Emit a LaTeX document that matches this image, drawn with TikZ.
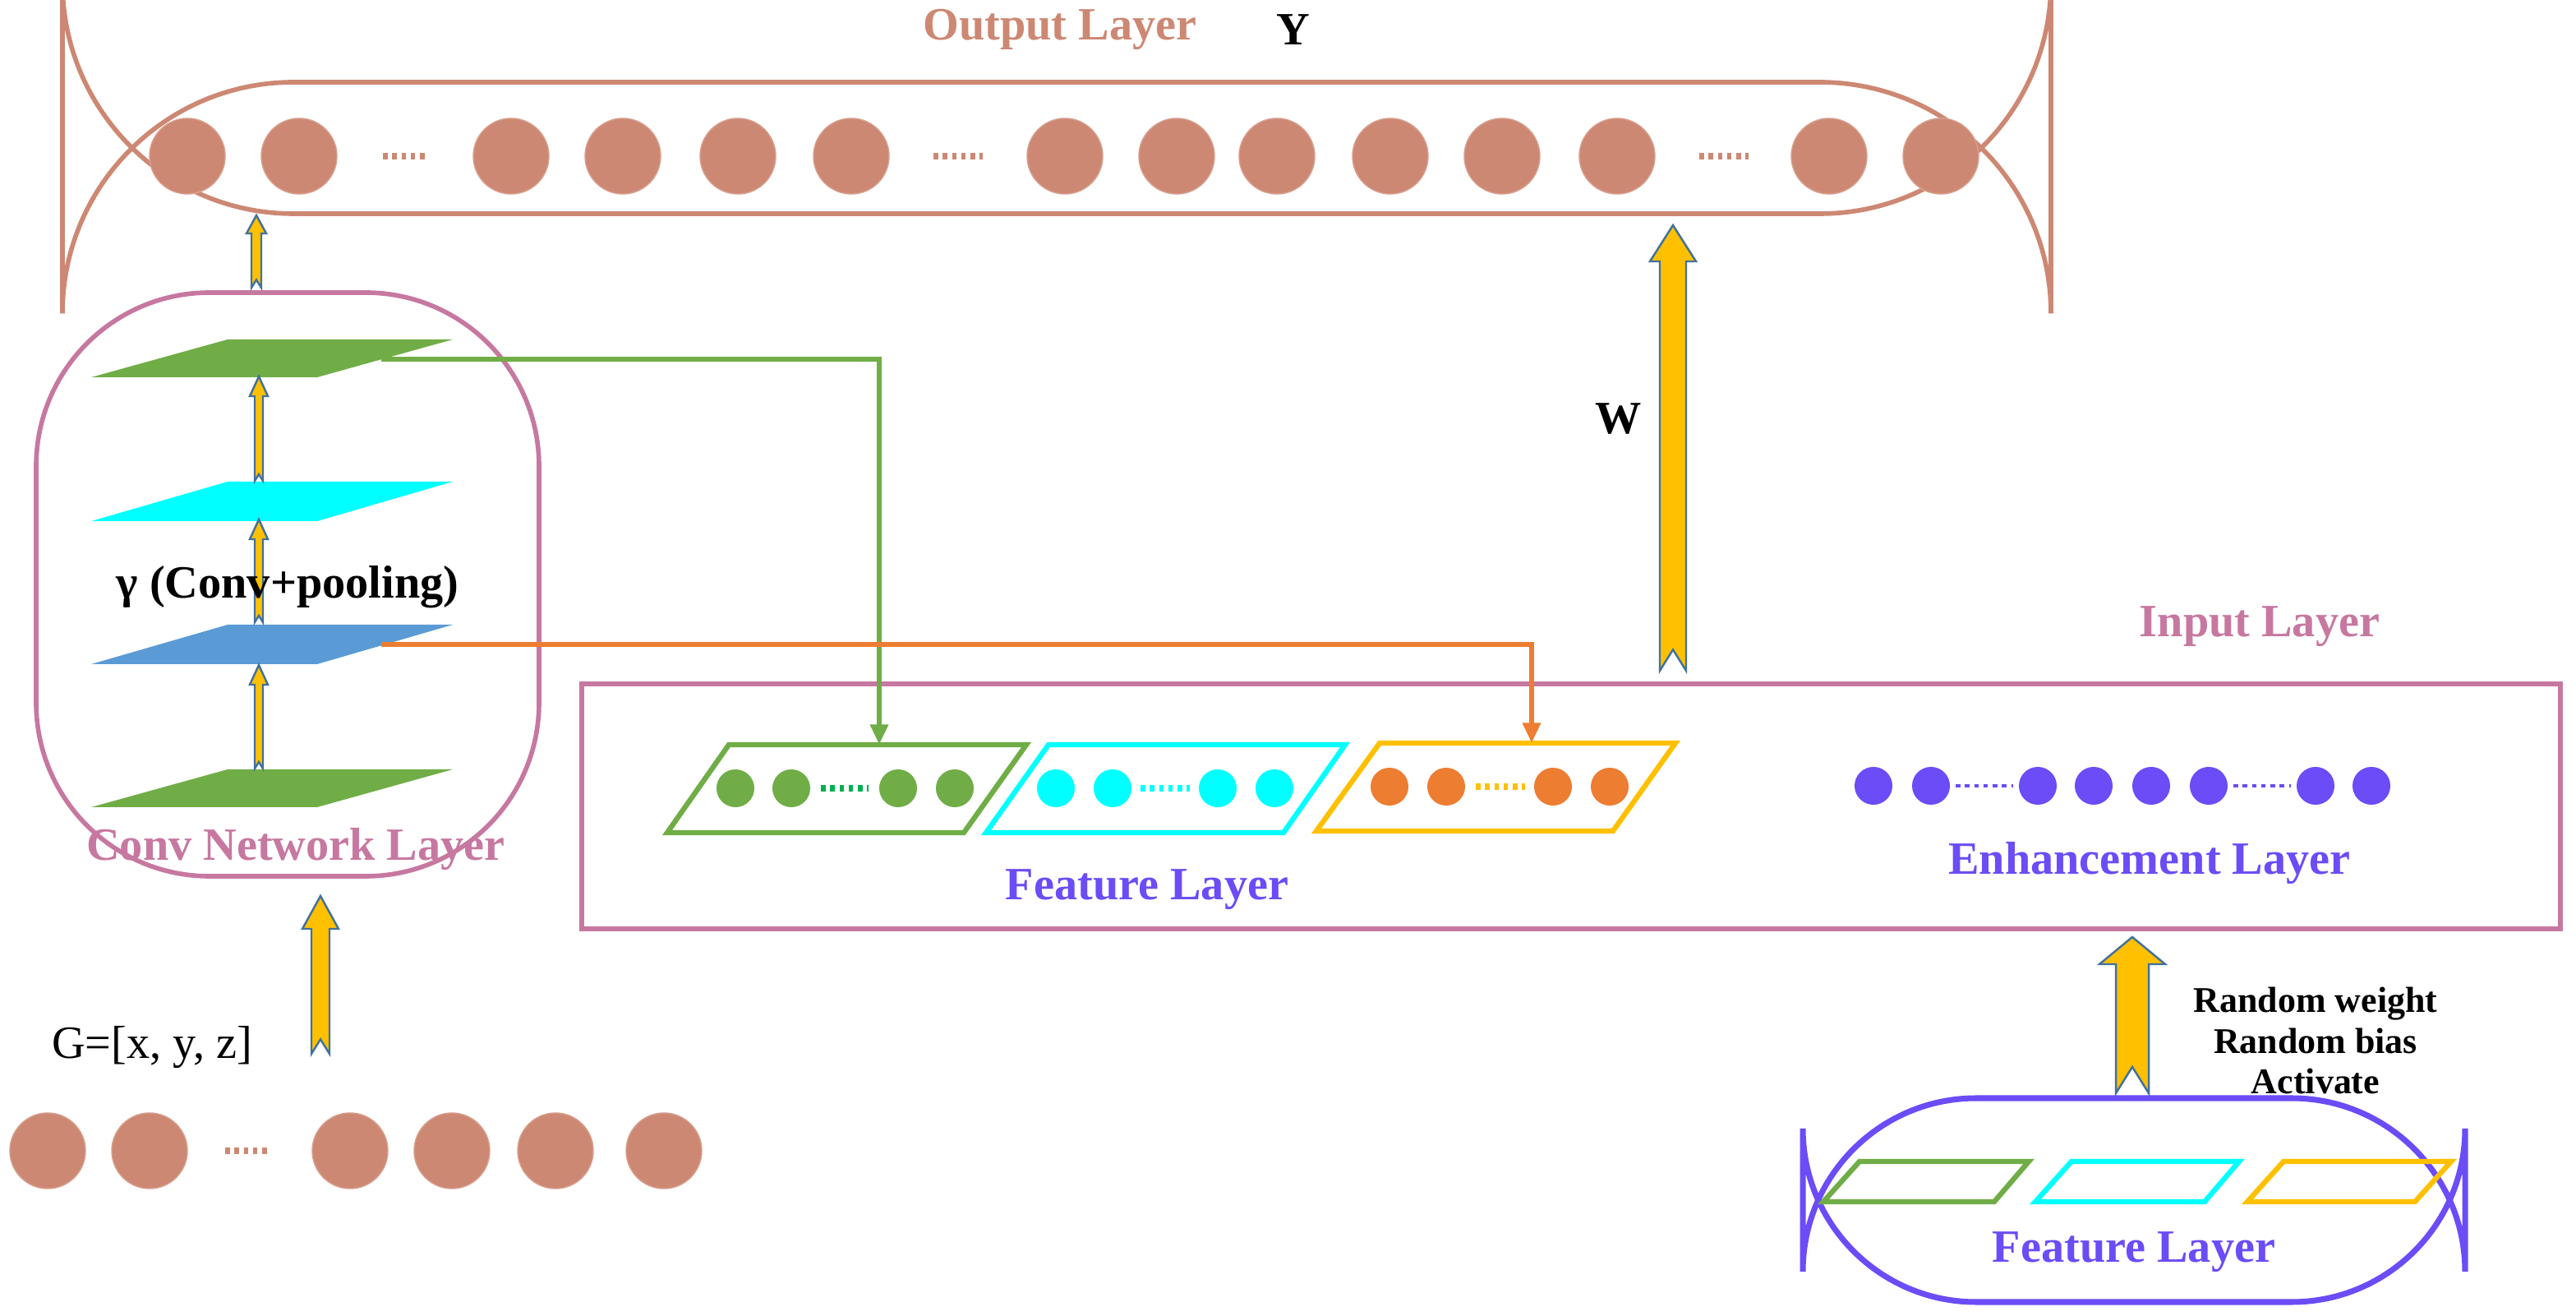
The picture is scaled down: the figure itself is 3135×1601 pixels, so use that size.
\documentclass[tikz,border=0pt]{standalone}
\usepackage{fontspec}
\setmainfont{Liberation Serif}
\usetikzlibrary{arrows.meta}
\definecolor{pinkb}{RGB}{199,120,160}
\definecolor{brn}{RGB}{205,136,115}
\definecolor{purp}{RGB}{107,76,246}
\definecolor{gr}{RGB}{112,173,71}
\definecolor{dgr}{RGB}{0,176,80}
\definecolor{cy}{RGB}{0,255,255}
\definecolor{bl}{RGB}{91,155,213}
\definecolor{org}{RGB}{237,125,49}
\definecolor{yel}{RGB}{255,192,0}
\definecolor{aout}{RGB}{65,113,156}
\newcommand{\barrow}[6]{% x, tail, tip, s, h, hl
  \draw[aout,fill=yel,line width=0.7pt] (#1-#4,#2) -- (#1-#4,#3+#6) -- (#1-#5,#3+#6) -- (#1,#3) -- (#1+#5,#3+#6) -- (#1+#4,#3+#6) -- (#1+#4,#2) -- (#1,#2-1.6*#4) -- cycle;}
\tikzset{
  lbl/.style={font=\fontsize{16}{19}\selectfont\bfseries},
  ocirc/.style={circle,fill=brn,draw=brn!80!white,inner sep=0pt,minimum size=0.92cm},
  scirc/.style={circle,fill=#1,inner sep=0pt,minimum size=0.46cm},
  ecirc/.style={circle,fill=purp,inner sep=0pt,minimum size=0.46cm},
  dots/.style={draw=#1,line width=2.2pt,dash pattern=on 1.6pt off 1.6pt},
  conn/.style={draw=#1,line width=1.8pt,-{Triangle[length=7pt,width=6pt]}},
  frame/.style={draw=#1,line width=1.8pt,line join=miter},
}
\begin{document}
\begin{tikzpicture}[x=0.01cm,y=-0.01cm]
\useasboundingbox (0,0) rectangle (3135,1601);
% output layer
\draw[brn,line width=1.6pt,rounded corners=80] (76,100) rectangle (2496,260);
\node[lbl,text=brn] (outl) at (1290,36) {Output Layer};
\node[lbl] (Y) at (1574,36) {Y};
\foreach \x [count=\i] in {228,364,622,758,898,1036,1296,1432,1554,1692,1828,1968,2226,2362}
  \node[ocirc] (o\i) at (\x,190) {};
\foreach \a/\b in {466/522,1136/1196,2068/2128} \draw[dots=brn] (\a,190) -- (\b,190);
% conv box
\draw[pinkb,line width=1.6pt,rounded corners=60] (44,356) rectangle (656,1066);
\fill[gr] (111,459) -- (386,459) -- (551,413) -- (277,413) -- cycle;
\fill[cy] (111,634) -- (386,634) -- (551,586) -- (277,586) -- cycle;
\fill[bl] (111,808) -- (386,808) -- (551,760) -- (277,760) -- cycle;
\fill[gr] (111,982) -- (386,982) -- (551,936) -- (277,936) -- cycle;
\barrow{315}{935}{809}{5}{11}{24}
\barrow{315}{757}{632}{5}{11}{24}
\barrow{315}{585}{458}{5}{11}{24}
\node[lbl] (gam) at (350,714) {γ (Conv+pooling)};
\node[lbl,text=pinkb] (convl) at (360,1033) {Conv Network Layer};
\barrow{312}{350}{262}{6}{12}{22}
% input
\node[font=\fontsize{16}{19}\selectfont] (G) at (185,1274) {G=[x, y, z]};
\barrow{390}{1282}{1090}{11}{22}{40}
\foreach \x [count=\i] in {58,182,426,550,676,808}
  \node[ocirc] (b\i) at (\x,1400) {};
\draw[dots=brn] (274,1400) -- (330,1400);
% input layer box
\draw[pinkb,line width=1.8pt] (708,832) rectangle (3116,1130);
\node[lbl,text=pinkb] (inl) at (2750,762) {Input Layer};
% feature parallelograms
\draw[frame=gr] (812,1013) -- (1173,1013) -- (1249,906) -- (887,906) -- cycle;
\draw[frame=cy] (1200,1013) -- (1562,1013) -- (1637,906) -- (1276,906) -- cycle;
\draw[frame=yel] (1602,1011) -- (1963,1011) -- (2039,904) -- (1679,904) -- cycle;
\foreach \x [count=\i] in {895,963,1093,1162} \node[scirc=gr] (fg\i) at (\x,959) {};
\foreach \x [count=\i] in {1285,1354,1482,1551} \node[scirc=cy] (fc\i) at (\x,959) {};
\foreach \x [count=\i] in {1691,1760,1890,1959} \node[scirc=org] (fo\i) at (\x,957) {};
\draw[dots=dgr] (999,959) -- (1057,959);
\draw[dots=cy] (1388,959) -- (1448,959);
\draw[dots=yel] (1796,957) -- (1856,957);
\node[lbl,text=purp] (featl) at (1396,1082) {Feature Layer};
% enhancement
\foreach \x [count=\i] in {2280,2350,2480,2548,2618,2688,2818,2886} \node[ecirc] (e\i) at (\x,956) {};
\draw[dots=purp,line width=1.4pt] (2380,956) -- (2450,956);
\draw[dots=purp,line width=1.4pt] (2718,956) -- (2788,956);
\node[lbl,text=purp] (enhl) at (2616,1050) {Enhancement Layer};
% connectors
\coordinate (gsrc) at (464,437);
\coordinate (gdst) at (1070,906);
\coordinate (osrc) at (464,784);
\coordinate (odst) at (1864,904);
\draw[conn=gr] (gsrc) -| (gdst);
\draw[conn=org] (osrc) -| (odst);
% W arrow
\barrow{2036}{816}{274}{16}{28}{44}
\node[lbl] (W) at (1970,510) {W};
% bottom right feature layer
\draw[purp,line width=2pt,rounded corners=60] (2194,1336) rectangle (3000,1584);
\draw[frame=gr] (2219,1462) -- (2427,1462) -- (2469,1413) -- (2263,1413) -- cycle;
\draw[frame=cy] (2477,1462) -- (2683,1462) -- (2725,1413) -- (2521,1413) -- cycle;
\draw[frame=yel] (2735,1462) -- (2939,1462) -- (2983,1413) -- (2779,1413) -- cycle;
\node[lbl,text=purp] (featl2) at (2597,1523) {Feature Layer};
\barrow{2595}{1330}{1140}{20}{40}{33}
\node[font=\fontsize{12.5}{15}\selectfont\bfseries,align=center,inner sep=0pt] (rw) at (2818,1266) {Random weight\\[-1pt]Random bias\\[-1pt]Activate};
\end{tikzpicture}
\end{document}
